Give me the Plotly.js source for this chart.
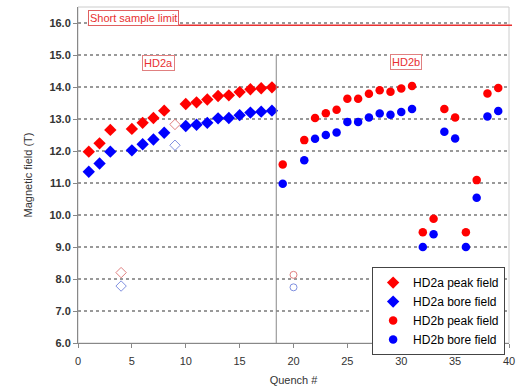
<!DOCTYPE html>
<html>
<head>
<meta charset="utf-8">
<script src="https://cdn.plot.ly/plotly-3.0.1.min.js"></script>
<style>html,body{margin:0;padding:0;background:#fff;}#chart{width:518px;height:387px;}</style>
</head>
<body>
<div id="chart"></div>
<script>
// HD2a (filled diamonds)
const hd2aQuench = [1, 2, 3, 5, 6, 7, 8, 10, 11, 12, 13, 14, 15, 16, 17, 18];
const hd2aPeak   = [11.98, 12.24, 12.66, 12.69, 12.88, 13.03, 13.26, 13.47, 13.52, 13.61, 13.72, 13.74, 13.84, 13.93, 13.96, 13.99];
const hd2aBore   = [11.35, 11.61, 11.98, 12.02, 12.21, 12.36, 12.57, 12.78, 12.82, 12.88, 13.02, 13.03, 13.12, 13.20, 13.23, 13.26];
// HD2a open markers
const hd2aOpenQuench = [4, 9];
const hd2aOpenPeak   = [8.20, 12.83];
const hd2aOpenBore   = [7.78, 12.18];
// HD2b (filled circles)
const hd2bQuench = [19, 21, 22, 23, 24, 25, 26, 27, 28, 29, 30, 31, 32, 33, 34, 35, 36, 37, 38, 39];
const hd2bPeak   = [11.58, 12.34, 13.03, 13.18, 13.29, 13.63, 13.63, 13.79, 13.90, 13.85, 13.95, 14.03, 9.46, 9.88, 13.31, 13.05, 9.46, 11.09, 13.80, 13.97];
const hd2bBore   = [10.98, 11.71, 12.38, 12.50, 12.58, 12.91, 12.91, 13.05, 13.17, 13.13, 13.22, 13.31, 9.00, 9.40, 12.60, 12.39, 9.00, 10.54, 13.08, 13.25];
// HD2b open markers
const hd2bOpenQuench = [20];
const hd2bOpenPeak   = [8.13];
const hd2bOpenBore   = [7.74];
// Reference lines / labels
const shortSampleLimit = 15.93;
const magnetSplit = 18.4;
const xTicks = [0, 5, 10, 15, 20, 25, 30, 35, 40];
const yTicks = [6, 7, 8, 9, 10, 11, 12, 13, 14, 15, 16];

const RED = '#ff0000', BLUE = '#0000ff';
const traces = [
  {x: hd2aQuench, y: hd2aPeak, name: 'HD2a peak field', mode: 'markers',
   marker: {symbol: 'diamond', size: 9.5, color: RED}},
  {x: hd2aQuench, y: hd2aBore, name: 'HD2a bore field', mode: 'markers',
   marker: {symbol: 'diamond', size: 9.5, color: BLUE}},
  {x: hd2bQuench, y: hd2bPeak, name: 'HD2b peak field', mode: 'markers',
   marker: {symbol: 'circle', size: 8.5, color: RED}},
  {x: hd2bQuench, y: hd2bBore, name: 'HD2b bore field', mode: 'markers',
   marker: {symbol: 'circle', size: 8.5, color: BLUE}},
  {x: hd2aOpenQuench, y: hd2aOpenPeak, mode: 'markers', showlegend: false,
   marker: {symbol: 'diamond-open', size: 8, color: '#e08080', line: {width: 1}}},
  {x: hd2aOpenQuench, y: hd2aOpenBore, mode: 'markers', showlegend: false,
   marker: {symbol: 'diamond-open', size: 8, color: '#8090e0', line: {width: 1}}},
  {x: hd2bOpenQuench, y: hd2bOpenPeak, mode: 'markers', showlegend: false,
   marker: {symbol: 'circle-open', size: 7, color: '#e08080', line: {width: 1}}},
  {x: hd2bOpenQuench, y: hd2bOpenBore, mode: 'markers', showlegend: false,
   marker: {symbol: 'circle-open', size: 7, color: '#8090e0', line: {width: 1}}}
];

const tickFont = {family: 'Liberation Sans, Arial, sans-serif', size: 11, color: '#333'};
const layout = {
  width: 518, height: 387,
  margin: {l: 78, r: 9, t: 7, b: 44},
  paper_bgcolor: '#fff', plot_bgcolor: '#fff',
  showlegend: true,
  font: {family: 'Liberation Sans, Arial, sans-serif', color: '#333'},
  xaxis: {
    range: [0, 40], tickvals: xTicks, showgrid: false, zeroline: false,
    showline: true, linecolor: '#888', linewidth: 1,
    ticks: 'outside', ticklen: 4, tickcolor: '#888', ticklabelstandoff: 4,
    tickfont: tickFont,
    title: {text: 'Quench #', font: {size: 11, color: '#333'}, standoff: 10}
  },
  yaxis: {
    range: [6, 16.5], tickvals: yTicks, tickformat: '.1f',
    showgrid: true, gridcolor: '#999', griddash: 'dot', gridwidth: 1.5,
    zeroline: false, showline: true, linecolor: '#888', linewidth: 1,
    ticks: 'outside', ticklen: 4, tickcolor: '#888',
    tickfont: {family: 'Liberation Sans, Arial, sans-serif', size: 11, color: '#333', weight: 'bold'},
    title: {text: 'Magnetic field (T)', font: {size: 11, color: '#333'}, standoff: 14}
  },
  legend: {
    x: 0.991, y: 0.226, xanchor: 'right', yanchor: 'top',
    bgcolor: '#fff', bordercolor: '#444', borderwidth: 1,
    font: {size: 12, color: '#000'}, tracegroupgap: 0
  },
  shapes: [
    {type: 'rect', xref: 'paper', yref: 'paper', x0: 0, x1: 1, y0: 0, y1: 1,
     line: {color: '#ccc', width: 1}, layer: 'below'},
    {type: 'line', xref: 'x', yref: 'y', x0: magnetSplit, x1: magnetSplit, y0: 6, y1: 15,
     line: {color: '#888', width: 1}},
    {type: 'line', xref: 'paper', yref: 'y', x0: 0.023, x1: 1.007,
     y0: shortSampleLimit, y1: shortSampleLimit, line: {color: '#e83030', width: 1.5}}
  ],
  annotations: [
    {text: 'Short sample limit', x: 0.93, y: 16.17, xref: 'x', yref: 'y',
     xanchor: 'left', yanchor: 'middle', showarrow: false,
     font: {size: 11, color: '#e83030'}, bgcolor: '#fff', bordercolor: '#e06060', borderwidth: 1, borderpad: 1},
    {text: 'HD2a', x: 7.51, y: 14.75, xref: 'x', yref: 'y', showarrow: false,
     font: {size: 11, color: '#e83030'}, bgcolor: '#fff', bordercolor: '#e08080', borderwidth: 1, borderpad: 1},
    {text: 'HD2b', x: 30.43, y: 14.78, xref: 'x', yref: 'y', showarrow: false,
     font: {size: 11, color: '#e83030'}, bgcolor: '#fff', bordercolor: '#e08080', borderwidth: 1, borderpad: 1}
  ]
};

Plotly.newPlot('chart', traces, layout, {displayModeBar: false, staticPlot: true});
</script>
</body>
</html>
